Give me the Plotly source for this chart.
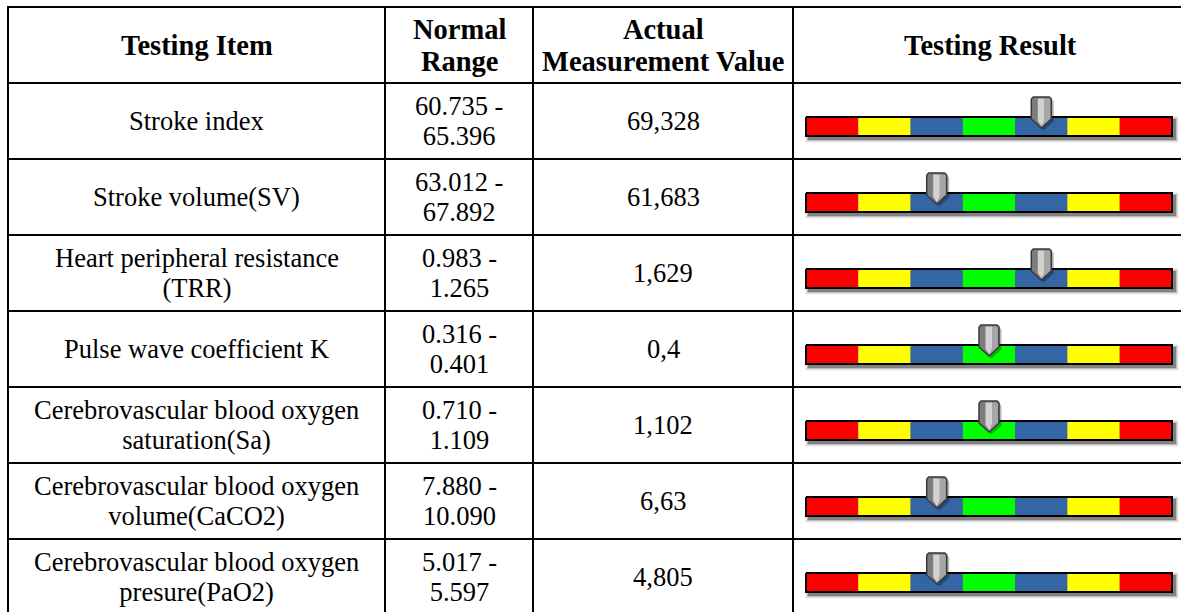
import plotly.graph_objects as go

# table content
headers = ["Testing Item", "Normal<br>Range", "Actual<br>Measurement Value", "Testing Result"]
items = [
    "Stroke index",
    "Stroke volume(SV)",
    "Heart peripheral resistance<br>(TRR)",
    "Pulse wave coefficient K",
    "Cerebrovascular blood oxygen<br>saturation(Sa)",
    "Cerebrovascular blood oxygen<br>volume(CaCO2)",
    "Cerebrovascular blood oxygen<br>presure(PaO2)",
]
range_low = [60.735, 63.012, 0.983, 0.316, 0.710, 7.880, 5.017]
range_high = [65.396, 67.892, 1.265, 0.401, 1.109, 10.090, 5.597]
measured = [69.328, 61.683, 1.629, 0.4, 1.102, 6.63, 4.805]
# scale segment (0..6) the pointer sits on
levels = [4, 2, 4, 3, 3, 2, 2]
scale_colors = ["#FF0000", "#FFFF00", "#3465A4", "#00FF00", "#3465A4", "#FFFF00", "#FF0000"]

# layout (pixels)
W, H = 1181, 612
TOP = 7
ROW_H = 76
COL_EDGES = [8, 385, 533, 793, 1187]
BAR_X0, BAR_X1 = 806, 1172
FONT = "Liberation Serif, Times New Roman, serif"
FS_BODY = 26.5
FS_HEAD = 28.5
LINE_FACTOR = 1.12

n = len(items)
nseg = len(scale_colors)
seg_px = (BAR_X1 - BAR_X0) / nseg
X2_LEFT = 790


def px_x(dx):
    return dx / seg_px


def px_y(dy):
    return dy / ROW_H


fig = go.Figure()

# coloured scale bars
bar_top, bar_bot = 34, 53
bar_y = [i + 1 + px_y((bar_top + bar_bot) / 2) for i in range(n)]
for j, color in enumerate(scale_colors):
    fig.add_trace(go.Bar(
        x=[1] * n, y=bar_y, base=[j] * n, orientation="h",
        width=px_y(bar_bot - bar_top),
        marker=dict(color=color, line_width=0),
        xaxis="x2", yaxis="y", showlegend=False, hoverinfo="skip"
    ))

# bar outlines
bx, by = [], []
for i in range(n):
    y0 = i + 1 + px_y(bar_top)
    y1 = i + 1 + px_y(bar_bot)
    bx += [0, nseg, nseg, 0, 0, None]
    by += [y0, y0, y1, y1, y0, None]
fig.add_trace(go.Scatter(
    x=bx, y=by, mode="lines", line=dict(color="black", width=2),
    xaxis="x2", yaxis="y", showlegend=False, hoverinfo="skip"
))

# bar drop shadows
for i in range(n):
    for grow, alpha in [(2.5, 0.10), (1, 0.18), (0, 0.30)]:
        fig.add_shape(
            type="rect", xref="x2", yref="y", layer="below",
            x0=px_x(3 - grow - 1), x1=nseg + px_x(3 + grow + 1),
            y0=i + 1 + px_y(bar_top + 3 - grow - 1), y1=i + 1 + px_y(bar_bot + 3 + grow + 1),
            fillcolor=f"rgba(0,0,0,{alpha})", line_width=0
        )

# pointer polygons (pixel offsets from pointer centre / row top)
pointer_outline = [(-10, 16), (-8, 14), (8, 14), (10, 16), (10, 36), (0, 45), (-10, 36), (-10, 16)]
pointer_right = [(3, 15.5), (8, 15.5), (9, 17), (9, 35.5), (0.5, 43.5), (3, 37)]
pointer_light = [(-3.5, 15.5), (3, 15.5), (3, 37), (0.5, 43.5), (-3.5, 38)]


def pointer_path(poly, ox=0, oy=0):
    xs, ys = [], []
    for i, lv in enumerate(levels):
        cx = lv + 0.5
        for dx, dy in poly:
            xs.append(cx + px_x(dx + ox))
            ys.append(i + 1 + px_y(dy + oy))
        xs.append(None)
        ys.append(None)
    return xs, ys


for poly, fill, lc, lw, off in [
    (pointer_outline, "rgba(0,0,0,0.28)", "rgba(0,0,0,0)", 0, 2.5),
    (pointer_outline, "#7c7c7c", "#3a3a3a", 1.5, 0),
    (pointer_right, "#a6a6a6", "rgba(0,0,0,0)", 0, 0),
    (pointer_light, "#d2d2d2", "rgba(0,0,0,0)", 0, 0),
]:
    xs, ys = pointer_path(poly, off, off)
    fig.add_trace(go.Scatter(
        x=xs, y=ys, mode="lines", fill="toself", fillcolor=fill,
        line=dict(color=lc, width=lw),
        xaxis="x2", yaxis="y", showlegend=False, hoverinfo="skip"
    ))

# table grid
for k in range(n + 2):
    fig.add_shape(type="line", xref="x", yref="y", x0=COL_EDGES[0] - 1, x1=COL_EDGES[-1],
                  y0=k, y1=k, line=dict(color="black", width=2))
for xe in COL_EDGES:
    fig.add_shape(type="line", xref="x", yref="y", x0=xe, x1=xe,
                  y0=0, y1=n + 1.5, line=dict(color="black", width=2))


def add_cell(text, col, yc, bold=False):
    # base font size sets the line pitch, the span sets the glyph size
    xc = (COL_EDGES[col] + COL_EDGES[col + 1]) / 2
    size = FS_HEAD if bold else FS_BODY
    lines = []
    for line in text.split("<br>"):
        if bold:
            line = f"<b>{line}</b>"
        lines.append(f"<span style='font-size:{size}px'>{line}</span>")
    fig.add_annotation(
        x=xc, y=yc, xref="x", yref="y",
        text="<br>".join(lines),
        showarrow=False, xanchor="center", yanchor="middle", align="center",
        font=dict(family=FONT, size=size * LINE_FACTOR / 1.3, color="black")
    )


for c, h in enumerate(headers):
    add_cell(h, c, 0.5, bold=True)

for i in range(n):
    yc = i + 1.5
    add_cell(items[i], 0, yc)
    add_cell(f"{range_low[i]:.3f} -<br>{range_high[i]:.3f}", 1, yc)
    add_cell(f"{measured[i]:g}".replace(".", ","), 2, yc)

fig.update_layout(
    width=W, height=H,
    margin=dict(l=0, r=0, t=0, b=0),
    paper_bgcolor="white", plot_bgcolor="white",
    barmode="overlay", hovermode=False, showlegend=False,
    xaxis=dict(range=[0, W], domain=[0, 1], visible=False, fixedrange=True),
    xaxis2=dict(
        range=[(X2_LEFT - BAR_X0) / seg_px, (W - BAR_X0) / seg_px],
        domain=[X2_LEFT / W, 1], anchor="y", visible=False, fixedrange=True
    ),
    yaxis=dict(range=[(H - TOP) / ROW_H, -TOP / ROW_H], domain=[0, 1],
               visible=False, fixedrange=True),
)

fig.write_html(
    "out.html",
    config={"displayModeBar": False, "staticPlot": True},
    post_script="document.body.style.margin = '0';",
)
